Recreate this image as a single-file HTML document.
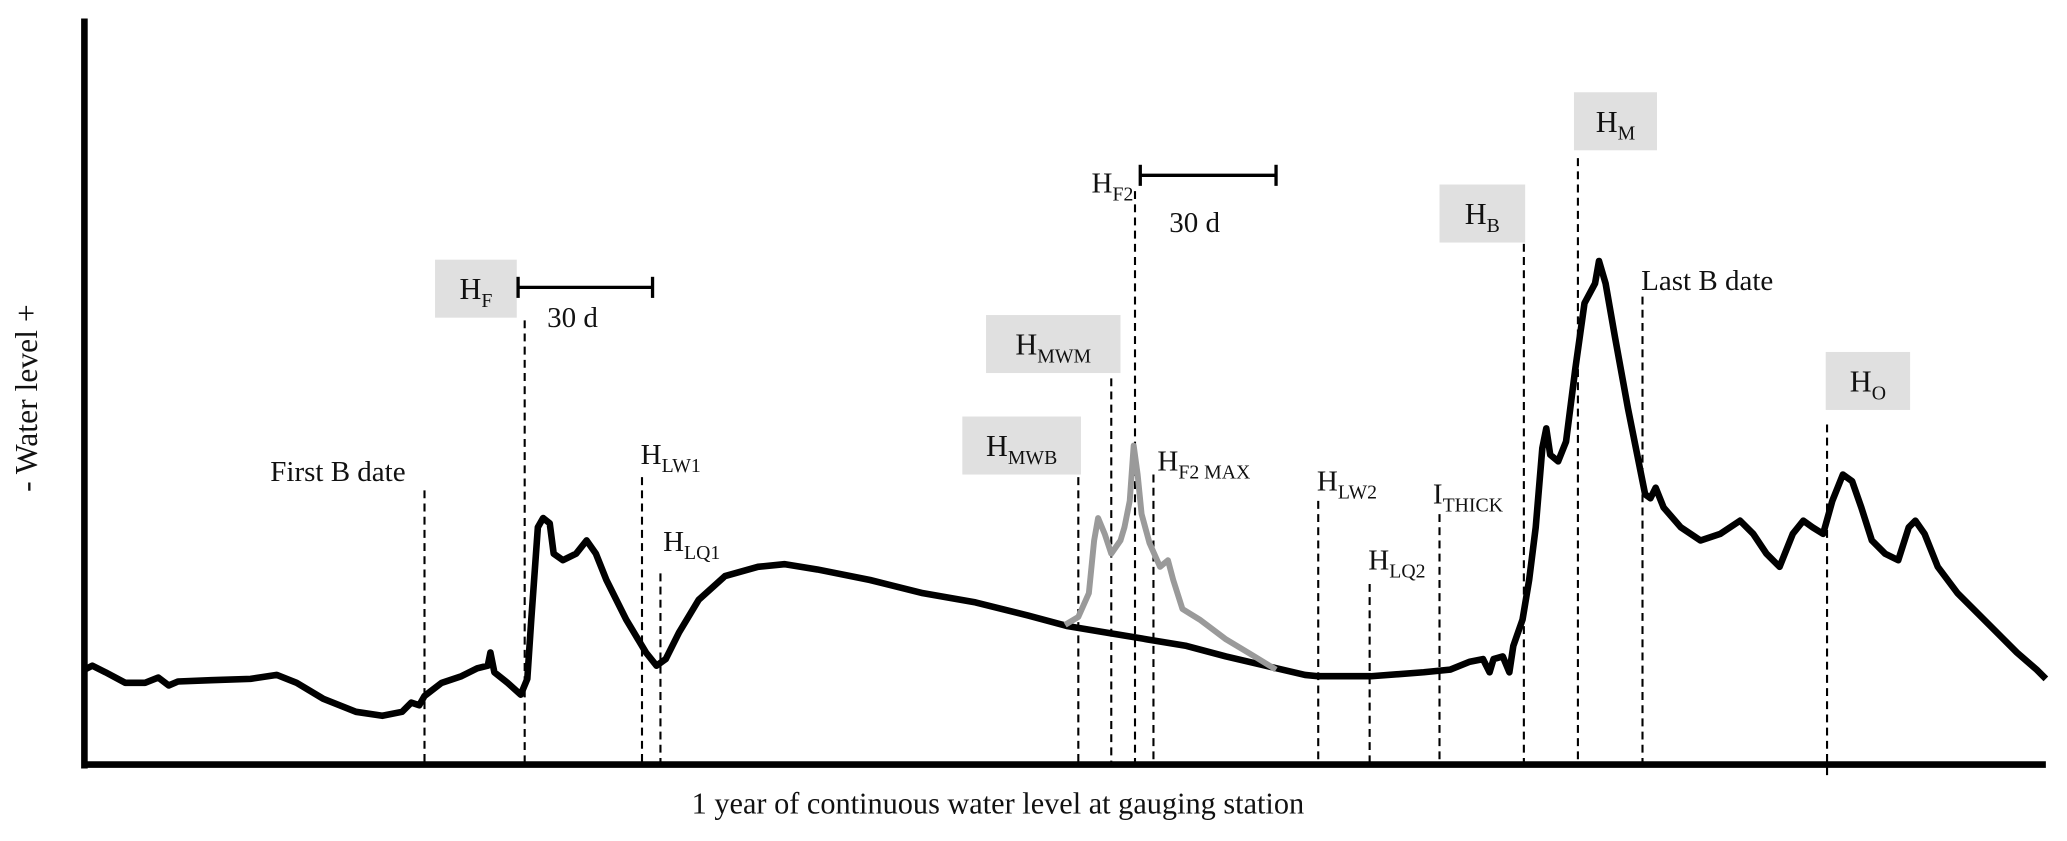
<!DOCTYPE html>
<html><head><meta charset="utf-8"><style>
html,body{margin:0;padding:0;background:#fff;}
svg{display:block;}
text{font-family:"Liberation Serif",serif;fill:#111;}
</style></head>
<body>
<svg id="chart" width="2067" height="841" viewBox="0 0 1568 638" xmlns="http://www.w3.org/2000/svg">
<g id="boxes"></g>
<g id="markers"></g>
<g id="series"></g>
<g id="labels"></g>
<line x1="64" y1="14" x2="64" y2="583" stroke="#000" stroke-width="5"/>
<line x1="62" y1="580" x2="1552" y2="580" stroke="#000" stroke-width="5"/>
<text x="757" y="617" font-size="23" text-anchor="middle">1 year of continuous water level at gauging station</text>
<text transform="translate(28,302) rotate(-90)" font-size="24" text-anchor="middle">- Water level +</text>
<g stroke="#000" stroke-width="2.5">
<line x1="393" y1="218" x2="495" y2="218"/><line x1="393" y1="210" x2="393" y2="226"/><line x1="495" y1="210" x2="495" y2="226"/></g>
<text x="415" y="248" font-size="22">30 d</text>
<g stroke="#000" stroke-width="2.5">
<line x1="865" y1="133" x2="968" y2="133"/><line x1="865" y1="125" x2="865" y2="141"/><line x1="968" y1="125" x2="968" y2="141"/></g>
<text x="887" y="176" font-size="22">30 d</text>
</svg>
<script>
// main hydrograph: time units (0..1486) and level units above baseline
const mainT=[0,6,16,31,46,56,64,71,96,126,146,161,181,206,226,241,248,254,258,271,286,298,306,308,311,321,331,336,339,344,348,353,356,363,373,381,388,396,411,426,434,441,451,466,486,511,531,556,596,636,676,716,746,776,806,836,866,896,926,936,976,1016,1036,1051,1061,1066,1069,1076,1081,1084,1091,1096,1101,1106,1109,1112,1118,1124,1131,1138,1146,1149,1154,1161,1171,1179,1184,1188,1192,1198,1211,1226,1241,1256,1266,1276,1286,1296,1304,1311,1319,1326,1334,1341,1348,1356,1366,1376,1384,1389,1396,1406,1421,1436,1451,1466,1481,1488];
const mainV=[72,75,70,62,62,66,60,63,64,65,68,62,50,40,37,40,47,45,52,62,67,73,75,85,70,62,53,65,110,180,187,183,160,155,160,170,160,140,110,85,75,80,100,125,143,150,152,148,140,130,123,113,105,100,95,90,82,75,68,67,67,70,72,78,80,70,80,82,70,90,110,140,180,240,255,235,230,245,300,350,365,382,365,325,270,230,205,202,210,195,180,170,175,185,175,160,150,175,185,180,175,200,220,215,195,170,160,155,180,185,175,150,130,115,100,85,72,65];
// alternative (grey) flood scenario
const greyT=[744,754,762,766,769,774,779,786,789,793,796,799,802,808,816,822,826,833,846,866,886,904];
const greyV=[106,112,130,170,187,175,160,170,180,200,242,220,190,168,150,155,140,118,110,95,83,72];
// event markers
const markerNames=["first-b-date","h-f","h-lw1","h-lq1","h-mwb","h-mwm","h-f2","h-f2-max","h-lw2","h-lq2","i-thick","h-b","h-m","last-b-date","h-o"];
const markerT=[258,334,423,437,754,779,797,811,936,975,1028,1092,1133,1182,1322];
const markerTop=[208,337,218,145,218,293,435,220,200,137,190,395,460,355,258];

const SVGNS="http://www.w3.org/2000/svg";
function xs(t){return 64+t;}
function ys(v){return 580-v;}
function mk(tag,attrs,parent){const e=document.createElementNS(SVGNS,tag);for(const k in attrs)e.setAttribute(k,attrs[k]);document.getElementById(parent).appendChild(e);return e;}

markerT.forEach((t,i)=>{
  const l=mk("line",{x1:xs(t),x2:xs(t),y1:ys(markerTop[i]),y2:(markerNames[i]==="h-o"?588:578),stroke:"#000","stroke-width":1.6,"stroke-dasharray":"6,4"},"markers");
  
  
});

function path(T,V){return T.map((t,i)=>(i?"L":"M")+xs(t)+","+ys(V[i])).join(" ");}
const pm=mk("path",{d:path(mainT,mainV),fill:"none",stroke:"#000","stroke-width":5,"stroke-linejoin":"round"},"series");


const pg=mk("path",{d:path(greyT,greyV),fill:"none",stroke:"#9a9a9a","stroke-width":4.5,"stroke-linejoin":"round"},"series");



// grey label boxes
const boxes=[["h-f",330,197,62,44,"H","F"],["h-mwm",748,239,102,44,"H","MWM"],["h-mwb",730,316,90,44,"H","MWB"],["h-b",1092,140,65,44,"H","B"],["h-m",1194,70,63,44,"H","M"],["h-o",1385,267,64,44,"H","O"]];
boxes.forEach(b=>{
  const r=mk("rect",{x:b[1],y:b[2],width:b[3],height:b[4],fill:"#e0e0e0"},"boxes");
  
  
  const tx=mk("text",{x:b[1]+b[3]/2,y:b[2]+30,"font-size":23,"text-anchor":"middle"},"boxes");
  
  
  tx.innerHTML=b[5]+'<tspan font-size="15" dy="6">'+b[6]+'</tspan>';
});

const labels=[["first-b-date",205,365,"First B date",""],["h-lw1",486,352,"H","LW1"],["h-lq1",503,418,"H","LQ1"],["h-f2",828,146,"H","F2"],["h-f2-max",878,357,"H","F2 MAX"],["h-lw2",999,372,"H","LW2"],["h-lq2",1038,432,"H","LQ2"],["i-thick",1087,382,"I","THICK"],["last-b-date",1245,220,"Last B date",""]];
labels.forEach(l=>{
  const tx=mk("text",{x:l[1],y:l[2],"font-size":22},"labels");
  
  
  tx.innerHTML=l[3]+(l[4]?'<tspan font-size="15" dy="6">'+l[4]+'</tspan>':'');
});
</script>
</body></html>
